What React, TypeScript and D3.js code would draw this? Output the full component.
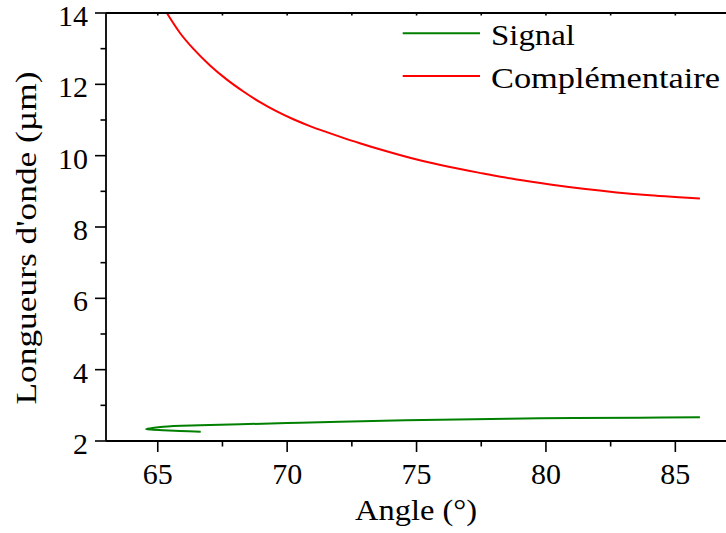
import React from "react";
import * as d3 from "d3";

const signalAngle = [66.66, 65.86, 65.21, 64.75, 64.55, 64.75, 65.21, 66.63, 68.18, 70.0, 72.04, 75.91, 79.77, 83.63, 85.95];
const signalValue = [2.26, 2.28, 2.30, 2.32, 2.336, 2.36, 2.40, 2.44, 2.468, 2.505, 2.541, 2.597, 2.636, 2.653, 2.664];

const idlerAngle = [65.35, 65.86, 66.37, 67.02, 67.66, 68.31, 68.95, 69.60, 70.24, 70.88, 71.53, 72.17, 72.81, 73.71, 75.01, 76.29, 77.58, 78.87, 80.16, 81.44, 82.73, 84.02, 85.31, 85.95];
const idlerValue = [14.0, 13.44, 13.0, 12.53, 12.14, 11.8, 11.5, 11.24, 11.02, 10.83, 10.66, 10.5, 10.35, 10.15, 9.89, 9.68, 9.5, 9.33, 9.19, 9.07, 8.97, 8.89, 8.83, 8.8];

const xMajor = [65, 70, 75, 80, 85];
const xMinor = [62.5, 67.5, 72.5, 77.5, 82.5, 87.5];
const yMajor = [2, 4, 6, 8, 10, 12, 14];
const yMinor = [3, 5, 7, 9, 11, 13];

const legendNames = ["Signal", "Complémentaire"];
const legendColors = ["#008000", "#ff0000"];
const legendWidths = [84, 229];

const W = 726;
const H = 533;
const FONT = "Liberation Serif, DejaVu Serif, serif";

export default function App() {
  const x = d3.scaleLinear().domain([63, 87]).range([106, 727.1]);
  const y = d3.scaleLinear().domain([2, 14]).range([441, 13]);

  const sigLine = d3
    .line<[number, number]>()
    .x((d) => x(d[0]))
    .y((d) => y(d[1]))
    .curve(d3.curveCatmullRom.alpha(0.5));
  const idlLine = d3
    .line<[number, number]>()
    .x((d) => x(d[0]))
    .y((d) => y(d[1]))
    .curve(d3.curveMonotoneX);

  const sig: [number, number][] = signalAngle.map((a, i) => [a, signalValue[i]]);
  const idl: [number, number][] = idlerAngle.map((a, i) => [a, idlerValue[i]]);

  const [x0, x1] = x.range();
  const [yb, yt] = y.range();
  const xTicksIn = xMajor.concat(xMinor).filter((v) => v > 63 && v < 87);

  return (
    <svg
      width={W}
      height={H}
      style={{ position: "absolute", left: 0, top: 0, background: "#fff", fontFamily: FONT }}
    >
      <defs>
        <clipPath id="plot">
          <rect x={x0} y={yt} width={x1 - x0} height={yb - yt} />
        </clipPath>
      </defs>

      <g clipPath="url(#plot)" fill="none" strokeWidth={2}>
        <path d={sigLine(sig) || ""} stroke={legendColors[0]} />
        <path d={idlLine(idl) || ""} stroke={legendColors[1]} />
      </g>

      <g stroke="#000" strokeWidth={1.8} fill="none">
        <line x1={x0} x2={x1} y1={yb} y2={yb} />
        <line x1={x0} x2={x1} y1={yt} y2={yt} />
        <line x1={x0} x2={x0} y1={yt} y2={yb} />
        <line x1={x1} x2={x1} y1={yt} y2={yb} />
      </g>

      <g stroke="#000" strokeWidth={1.6}>
        {xMajor.map((v) => (
          <line key={"xM" + v} x1={x(v)} x2={x(v)} y1={yb} y2={yb + 11} />
        ))}
        {xMinor
          .filter((v) => v > 63 && v < 87)
          .map((v) => (
            <line key={"xm" + v} x1={x(v)} x2={x(v)} y1={yb} y2={yb + 5.5} />
          ))}
        {xTicksIn.map((v) => (
          <line key={"xt" + v} x1={x(v)} x2={x(v)} y1={yt} y2={yt + 2.5} />
        ))}
        {yMajor.map((v) => (
          <line key={"yM" + v} x1={x0 - 11} x2={x0} y1={y(v)} y2={y(v)} />
        ))}
        {yMinor.map((v) => (
          <line key={"ym" + v} x1={x0 - 5.5} x2={x0} y1={y(v)} y2={y(v)} />
        ))}
      </g>

      <g fontSize={30} fill="#000">
        {xMajor.map((v) => (
          <text key={"xl" + v} x={x(v)} y={484} textAnchor="middle">
            {v}
          </text>
        ))}
        {yMajor.map((v) => (
          <text key={"yl" + v} x={88} y={y(v) + 13} textAnchor="end">
            {v}
          </text>
        ))}
      </g>

      <text
        x={416}
        y={519.5}
        fontSize={30}
        textAnchor="middle"
        textLength={122}
        lengthAdjust="spacingAndGlyphs"
      >
        Angle (°)
      </text>
      <text
        transform="translate(36,238) rotate(-90)"
        fontSize={30}
        textAnchor="middle"
        textLength={333}
        lengthAdjust="spacingAndGlyphs"
      >
        Longueurs d'onde (µm)
      </text>

      {legendNames.map((name, i) => (
        <g key={name}>
          <line
            x1={402.7}
            x2={480}
            y1={33.3 + i * 42.7}
            y2={33.3 + i * 42.7}
            stroke={legendColors[i]}
            strokeWidth={2}
          />
          <text
            x={491}
            y={45 + i * 42.7}
            fontSize={30}
            textLength={legendWidths[i]}
            lengthAdjust="spacingAndGlyphs"
          >
            {name}
          </text>
        </g>
      ))}
    </svg>
  );
}
